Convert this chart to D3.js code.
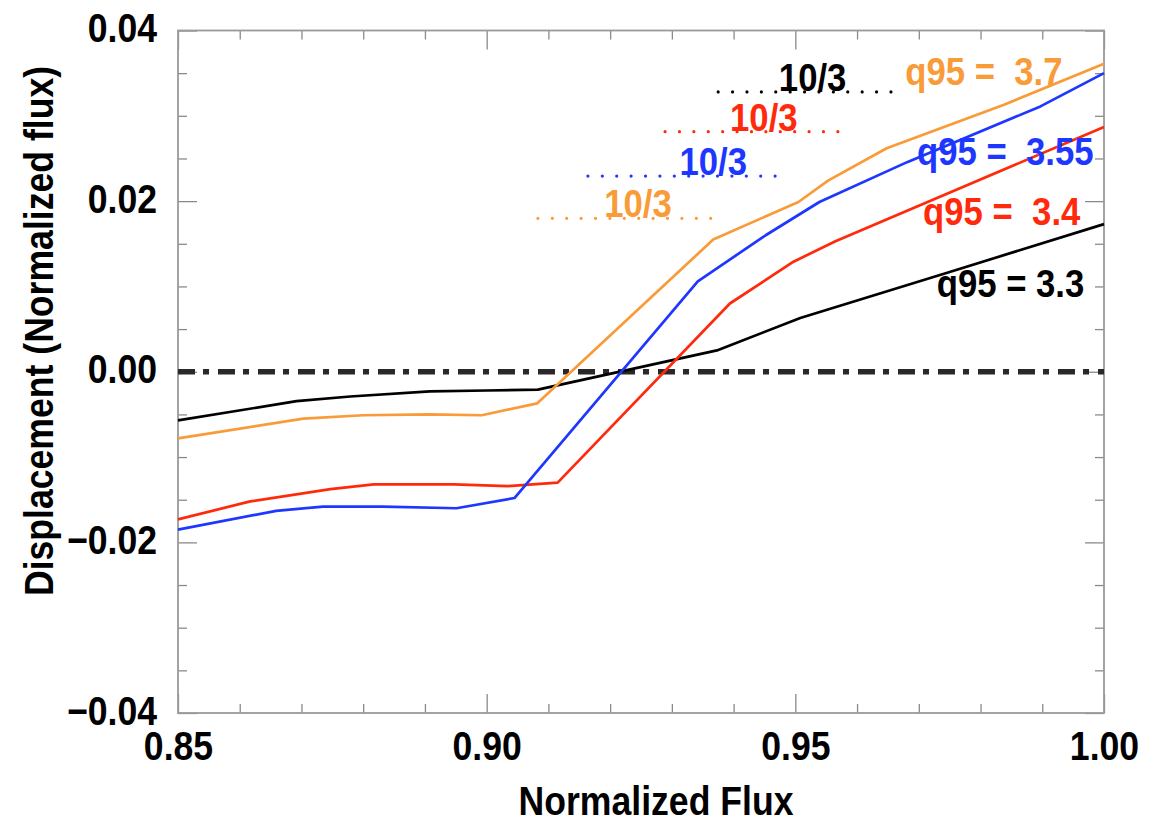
<!DOCTYPE html>
<html>
<head>
<meta charset="utf-8">
<script src="https://cdn.jsdelivr.net/npm/d3@7"></script>
<style>
  html, body { margin: 0; padding: 0; background: #fff; }
  svg text { font-family: "Liberation Sans", Arial, Helvetica, sans-serif; font-weight: bold; white-space: pre; }
</style>
</head>
<body>
<svg id="chart" width="1152" height="825"></svg>
<script>
// ---- data ----
const xDomain = [0.85, 1.00];
const yDomain = [-0.04, 0.04];
const xMajorTicks = [0.85, 0.90, 0.95, 1.00];
const yMajorTicks = [-0.04, -0.02, 0.00, 0.02, 0.04];
const xMinorStep = 0.01;
const yMinorStep = 0.005;

const seriesNames = ["q95 = 3.3", "q95 = 3.4", "q95 = 3.55", "q95 = 3.7"];

const blackX = [0.85, 0.8692, 0.8779, 0.8908, 0.900, 0.9083, 0.9373, 0.9508, 0.975, 1.00];
const blackY = [-0.0057, -0.00345, -0.0029, -0.0023, -0.0022, -0.0021, 0.0025, 0.0063, 0.0117, 0.0173];

const redX = [0.85, 0.8617, 0.8747, 0.8817, 0.8947, 0.9034, 0.9115, 0.9394, 0.9497, 0.9565, 1.00];
const redY = [-0.0173, -0.0152, -0.01375, -0.0132, -0.0132, -0.0134, -0.0130, 0.0080, 0.0129, 0.0153, 0.0287];

const blueX = [0.85, 0.8659, 0.8735, 0.8832, 0.8951, 0.9045, 0.9342, 0.9452, 0.9539, 0.9682, 0.9897, 1.00];
const blueY = [-0.0185, -0.0163, -0.0158, -0.0158, -0.0160, -0.0148, 0.0106, 0.0160, 0.0199, 0.0246, 0.0311, 0.0350];

const orangeX = [0.85, 0.8703, 0.880, 0.8908, 0.8992, 0.9082, 0.9367, 0.9505, 0.9553, 0.9648, 0.9838, 1.00];
const orangeY = [-0.0078, -0.0055, -0.0051, -0.0050, -0.0051, -0.0037, 0.0155, 0.0199, 0.0224, 0.0262, 0.0313, 0.0361];

// q = 10/3 dotted markers: [x start, x end, y level]
const q103Labels = ["10/3", "10/3", "10/3", "10/3"];
const q103Start = [0.9375, 0.9289, 0.9164, 0.9083];
const q103End   = [0.9658, 0.9572, 0.9486, 0.9364];
const q103Level = [0.0328, 0.02814, 0.02294, 0.01798];

// ---- styles ----
const colors = ["#000000", "#ff2a0c", "#1e37ff", "#f89b38"];
const seriesLabelText = ["q95 = 3.3", "q95 =  3.4", "q95 =  3.55", "q95 =  3.7"];
// label anchors in data coordinates (start of text, baseline)
const labelAnchorX = [0.9729, 0.9707, 0.9697, 0.9678];
const labelAnchorY = [0.00880, 0.01718, 0.02424, 0.03361];
const q103TextX = [0.9528, 0.9449, 0.9367, 0.9245];

const W = 1152, H = 825;
const margin = {left: 178, top: 30.5, right: 48, bottom: 112};
const svg = d3.select("#chart");
const x = d3.scaleLinear().domain(xDomain).range([margin.left, W - margin.right]);
const y = d3.scaleLinear().domain(yDomain).range([H - margin.bottom, margin.top]);

const condense = 0.89;
function squeeze(sel) {
  sel.each(function() {
    const w = this.getComputedTextLength();
    d3.select(this).attr("textLength", w * condense).attr("lengthAdjust", "spacingAndGlyphs");
  });
}

const minorX = d3.range(xDomain[0], xDomain[1] + 1e-9, xMinorStep).filter(v => !xMajorTicks.some(m => Math.abs(m - v) < 1e-9));
const minorY = d3.range(yDomain[0], yDomain[1] + 1e-9, yMinorStep).filter(v => !yMajorTicks.some(m => Math.abs(m - v) < 1e-9));

const axisColor = "#8a8a8a";
function styleAxis(g) {
  g.select(".domain").remove();
  g.selectAll(".tick line").attr("stroke", axisColor).attr("stroke-width", 1.3);
}
const fmt = v => d3.format(".2f")(v).replace("-", "\u2212");

// bottom
const gB = svg.append("g").attr("transform", `translate(0,${y.range()[0]})`)
  .call(d3.axisBottom(x).tickValues(xMajorTicks).tickSize(-19).tickFormat(fmt));
styleAxis(gB);
gB.selectAll(".tick text").attr("y", 47).attr("dy", 0).attr("fill", "#000").attr("font-size", 40);
svg.append("g").attr("transform", `translate(0,${y.range()[0]})`)
  .call(d3.axisBottom(x).tickValues(minorX).tickSize(-9).tickFormat("")).call(styleAxis);
// top
svg.append("g").attr("transform", `translate(0,${y.range()[1]})`)
  .call(d3.axisTop(x).tickValues(xMajorTicks).tickSize(-19).tickFormat("")).call(styleAxis);
svg.append("g").attr("transform", `translate(0,${y.range()[1]})`)
  .call(d3.axisTop(x).tickValues(minorX).tickSize(-9).tickFormat("")).call(styleAxis);
// left
const gL = svg.append("g").attr("transform", `translate(${x.range()[0]},0)`)
  .call(d3.axisLeft(y).tickValues(yMajorTicks).tickSize(-19).tickFormat(fmt));
styleAxis(gL);
gL.selectAll(".tick text").attr("x", -21).attr("dy", "0.28em").attr("fill", "#000").attr("font-size", 40);
svg.append("g").attr("transform", `translate(${x.range()[0]},0)`)
  .call(d3.axisLeft(y).tickValues(minorY).tickSize(-9).tickFormat("")).call(styleAxis);
// right
svg.append("g").attr("transform", `translate(${x.range()[1]},0)`)
  .call(d3.axisRight(y).tickValues(yMajorTicks).tickSize(-19).tickFormat("")).call(styleAxis);
svg.append("g").attr("transform", `translate(${x.range()[1]},0)`)
  .call(d3.axisRight(y).tickValues(minorY).tickSize(-9).tickFormat("")).call(styleAxis);

// frame
svg.append("rect")
  .attr("x", x.range()[0]).attr("y", y.range()[1])
  .attr("width", x.range()[1] - x.range()[0]).attr("height", y.range()[0] - y.range()[1])
  .attr("fill", "none").attr("stroke", "#9a9a9a").attr("stroke-width", 1.8);

// zero line
svg.append("line")
  .attr("x1", x(xDomain[0])).attr("x2", x(xDomain[1]))
  .attr("y1", y(0)).attr("y2", y(0))
  .attr("stroke", "#2a2828").attr("stroke-width", 5.5)
  .attr("stroke-dasharray", "17,8,6,9");

// series
const seriesX = [blackX, redX, blueX, orangeX];
const seriesY = [blackY, redY, blueY, orangeY];
const line = d3.line().x(d => x(d[0])).y(d => y(d[1]));
seriesX.forEach((xs, i) => {
  const pts = xs.map((v, j) => [v, seriesY[i][j]]);
  svg.append("path").datum(pts).attr("d", line)
    .attr("fill", "none").attr("stroke", colors[i]).attr("stroke-width", 2.7)
    .attr("stroke-linejoin", "round");
});

// 10/3 dotted markers
q103Start.forEach((s, i) => {
  svg.append("line")
    .attr("x1", x(s)).attr("x2", x(q103End[i]))
    .attr("y1", y(q103Level[i])).attr("y2", y(q103Level[i]))
    .attr("stroke", colors[i]).attr("stroke-width", 3.2)
    .attr("stroke-linecap", "round").attr("stroke-dasharray", "0,14.4");
  svg.append("text")
    .attr("x", x(q103TextX[i])).attr("y", y(q103Level[i]) - 1)
    .attr("text-anchor", "middle").attr("font-size", 39).attr("fill", colors[i])
    .text(q103Labels[i]).call(squeeze);
});

// series labels
seriesLabelText.forEach((t, i) => {
  svg.append("text")
    .attr("x", x(labelAnchorX[i])).attr("y", y(labelAnchorY[i]))
    .attr("font-size", 39).attr("fill", colors[i])
    .text(t).call(squeeze);
});

// axis titles
svg.append("text")
  .attr("x", 656).attr("y", 815).attr("text-anchor", "middle")
  .attr("font-size", 40).attr("fill", "#000")
  .text("Normalized Flux").call(squeeze);
svg.append("text")
  .attr("transform", `translate(53,${(592 + 70) / 2}) rotate(-90)`)
  .attr("text-anchor", "middle").attr("font-size", 40).attr("fill", "#000")
  .text("Displacement (Normalized flux)").call(squeeze);

gB.selectAll(".tick text").call(squeeze);
gL.selectAll(".tick text").call(squeeze);
</script>
</body>
</html>
